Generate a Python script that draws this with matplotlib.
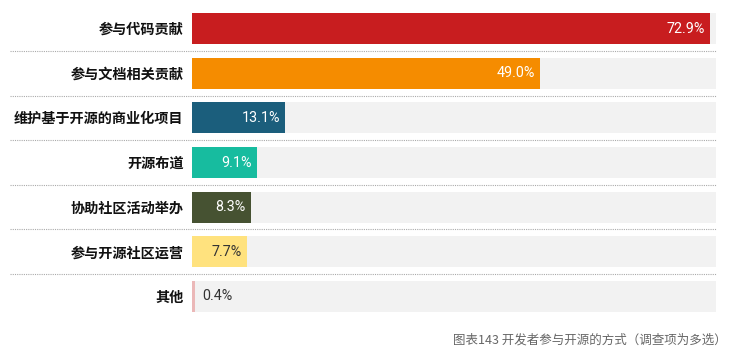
import matplotlib.pyplot as plt
from matplotlib.transforms import offset_copy

plt.rcParams['font.family'] = ['Noto Sans CJK SC', 'DejaVu Sans']

categories = ['参与代码贡献', '参与文档相关贡献', '维护基于开源的商业化项目', '开源布道',
              '协助社区活动举办', '参与开源社区运营', '其他']
values = [72.9, 49.0, 13.1, 9.1, 8.3, 7.7, 0.4]
colors = ['#C81D1F', '#F58C00', '#1B5E7C', '#17BC9F', '#465232', '#FFE27E', '#EBB8B8']
label_colors = ['white', 'white', 'white', 'white', 'white', '#333333', '#333333']
xmax = 73.8
caption = '图表143 开发者参与开源的方式（调查项为多选）'

fig = plt.figure(figsize=(7.3, 3.54), dpi=100)
ax = fig.add_axes([192 / 730, 1 - 318.8 / 354, 524 / 730, 312.6 / 354])

ypos = list(range(len(categories)))
ax.barh(ypos, [xmax] * len(ypos), height=0.7, color='#F2F2F2', zorder=1)
ax.barh(ypos, values, height=0.7, color=colors, zorder=2)

for y, v, c in zip(ypos, values, label_colors):
    txt = f'{v:.1f}%'
    if v > 5:
        t = offset_copy(ax.transData, fig=fig, x=-5, y=0, units='dots')
        ax.text(v, y, txt, ha='right', va='center', color=c, fontsize=10.3,
                family=['Roboto', 'DejaVu Sans'], transform=t, zorder=3)
    else:
        t = offset_copy(ax.transData, fig=fig, x=7, y=0, units='dots')
        ax.text(v, y, txt, ha='left', va='center', color=c, fontsize=10.3,
                family=['Roboto', 'DejaVu Sans'], transform=t, zorder=3)

# dotted separators between rows, running under the labels too
for k in range(len(categories) - 1):
    ax.plot([-0.347, 1.0], [k + 0.5, k + 0.5], transform=ax.get_yaxis_transform(),
            color='#AAAAAA', lw=0.8, ls=(0, (1, 1)), clip_on=False, zorder=0)

ax.set_xlim(0, xmax)
ax.set_ylim(len(categories) - 0.5, -0.5)
ax.set_yticks(ypos)
ax.set_yticklabels(categories, fontsize=10.2, fontweight='bold', color='#111111')
ax.tick_params(axis='y', length=0, pad=6)
ax.set_xticks([])
for s in ax.spines.values():
    s.set_visible(False)

fig.text(727 / 730, 1 - 340 / 354, caption, ha='right', va='center',
         fontsize=9, color='#666666')

fig.savefig('out.png', dpi=100)
